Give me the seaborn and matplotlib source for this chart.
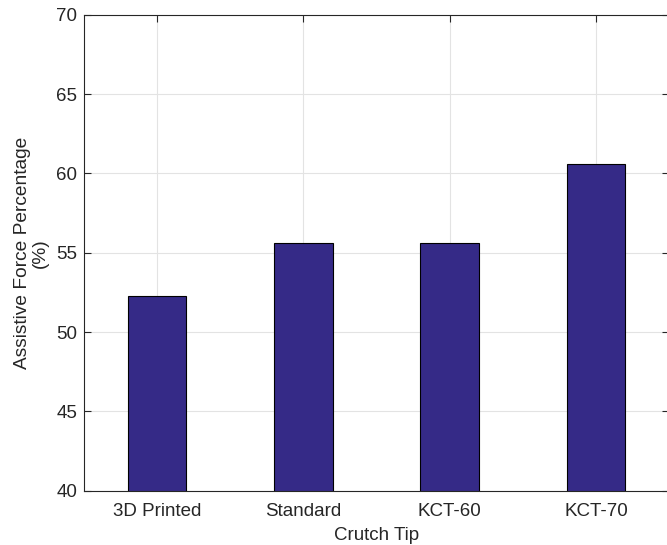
import matplotlib
matplotlib.use("Agg")
import matplotlib.pyplot as plt
import seaborn as sns
import pandas as pd

# Crutch tip types and the mean assistive force share for each
tips = ["3D Printed", "Standard", "KCT-60", "KCT-70"]
assist_pct = [52.27, 55.59, 55.63, 60.61]
y_ticks = [40, 45, 50, 55, 60, 65, 70]

df = pd.DataFrame({"tip": tips, "pct": assist_pct})

sns.set_theme(style="white")
plt.rcParams["font.family"] = ["Liberation Sans", "DejaVu Sans"]

W, H = 667, 545
fig = plt.figure(figsize=(W / 100, H / 100), dpi=100)
ax = fig.add_axes([84 / W, (H - 490.7) / H, (669 - 84) / W, (490.7 - 14.7) / H])

sns.barplot(data=df, x="tip", y="pct", order=tips, color="#352a87",
            saturation=1, edgecolor="black", linewidth=0.8, width=0.4, ax=ax)

ax.set_ylim(40, 70)
ax.set_xlim(-0.5, 3.5)
ax.set_yticks(y_ticks)
ax.set_axisbelow(True)
ax.grid(True, color="#e3e3e3", linewidth=0.8)

for s in ax.spines.values():
    s.set_visible(True)
    s.set_color("#262626")
    s.set_linewidth(0.8)

ax.tick_params(axis="both", direction="in", length=5, width=0.8, color="#262626",
               labelsize=13.5, labelcolor="#262626", top=True, right=True,
               bottom=True, left=True)
ax.tick_params(axis="y", pad=5)
ax.tick_params(axis="x", pad=9)

ax.set_xlabel("Crutch Tip", fontsize=13.5, color="#262626", labelpad=5)
ax.set_ylabel("Assistive Force Percentage\n(%)", fontsize=13.8, color="#262626",
              linespacing=1.1, labelpad=5)

fig.savefig("out.png", dpi=100)
